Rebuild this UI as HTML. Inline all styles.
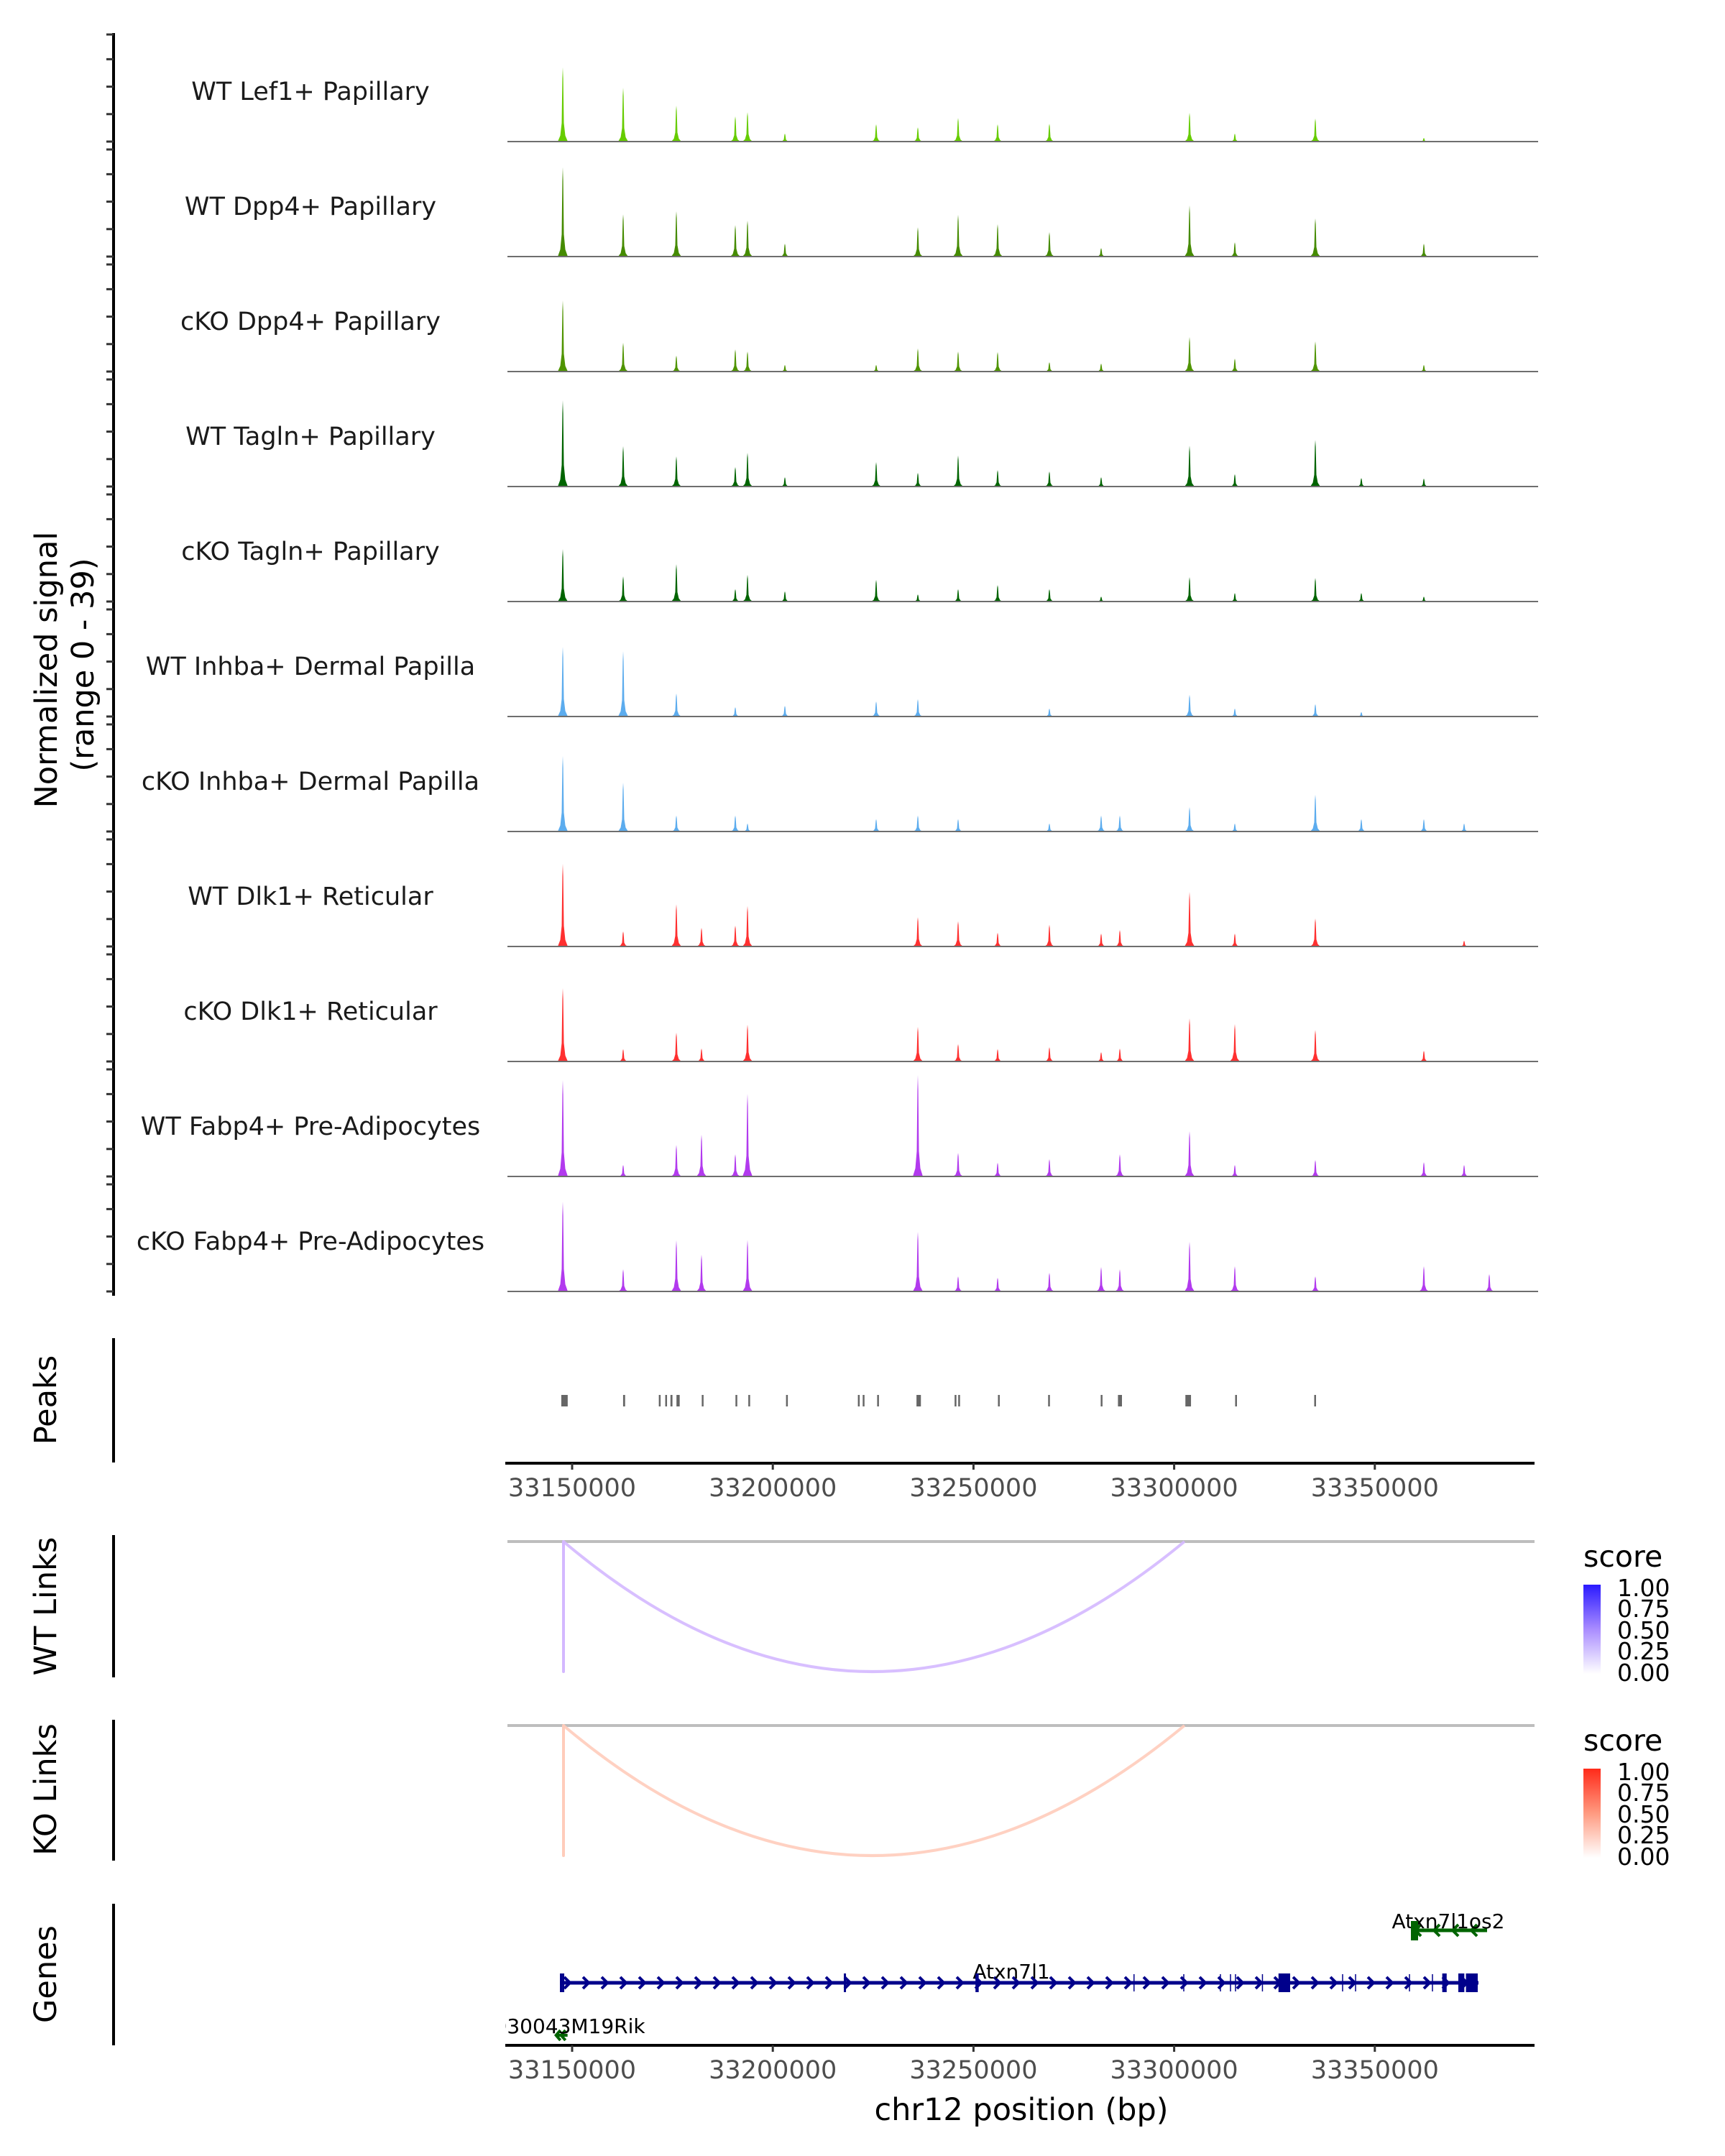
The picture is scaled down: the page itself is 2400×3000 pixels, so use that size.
<!DOCTYPE html>
<html><head><meta charset="utf-8"><title>Coverage plot chr12</title>
<style>
html,body{margin:0;padding:0;background:#fff;}
svg{display:block;font-family:"DejaVu Sans","Liberation Sans",sans-serif;}
</style></head>
<body>
<svg id="chart" width="2400" height="3000" viewBox="0 0 2400 3000" xmlns="http://www.w3.org/2000/svg">
<rect width="2400" height="3000" fill="#fff"/>
<defs>
<linearGradient id="gradBlue" x1="0" y1="0" x2="0" y2="1"><stop offset="0" stop-color="#2a1aff"/><stop offset="0.5" stop-color="#a98cff"/><stop offset="1" stop-color="#ffffff"/></linearGradient>
<linearGradient id="gradRed" x1="0" y1="0" x2="0" y2="1"><stop offset="0" stop-color="#ff2a1a"/><stop offset="0.5" stop-color="#ff9a80"/><stop offset="1" stop-color="#ffffff"/></linearGradient>
</defs>
<g id="tracks"></g>
<g id="peaks"></g>
<g id="links"></g>
<g id="genes"></g>
<g id="axes"></g>
<text transform="translate(79,932) rotate(-90)" text-anchor="middle" font-size="43" fill="#000">Normalized signal</text>
<text transform="translate(130,925) rotate(-90)" text-anchor="middle" font-size="43" fill="#000">(range 0 - 39)</text>
<text transform="translate(78,1948) rotate(-90)" text-anchor="middle" font-size="43">Peaks</text>
<text transform="translate(78,2235) rotate(-90)" text-anchor="middle" font-size="43">WT Links</text>
<text transform="translate(78,2490) rotate(-90)" text-anchor="middle" font-size="43">KO Links</text>
<text transform="translate(78,2747) rotate(-90)" text-anchor="middle" font-size="43">Genes</text>
<text x="1421" y="2950" text-anchor="middle" font-size="43">chr12 position (bp)</text>
<g>
<text x="2203" y="2180" font-size="41">score</text>
<rect x="2203" y="2205" width="24" height="124" fill="url(#gradBlue)"/>
<g font-size="33" fill="#000">
<text x="2250" y="2221">1.00</text><text x="2250" y="2250">0.75</text><text x="2250" y="2280">0.50</text><text x="2250" y="2309">0.25</text><text x="2250" y="2339">0.00</text></g>
</g>
<g>
<text x="2203" y="2436" font-size="41">score</text>
<rect x="2203" y="2461" width="24" height="124" fill="url(#gradRed)"/>
<g font-size="33" fill="#000">
<text x="2250" y="2477">1.00</text><text x="2250" y="2506">0.75</text><text x="2250" y="2536">0.50</text><text x="2250" y="2565">0.25</text><text x="2250" y="2595">0.00</text></g>
</g>
</svg>
<script>
// ---------- data ----------
const trackNames = ["WT Lef1+ Papillary","WT Dpp4+ Papillary","cKO Dpp4+ Papillary","WT Tagln+ Papillary","cKO Tagln+ Papillary","WT Inhba+ Dermal Papilla","cKO Inhba+ Dermal Papilla","WT Dlk1+ Reticular","cKO Dlk1+ Reticular","WT Fabp4+ Pre-Adipocytes","cKO Fabp4+ Pre-Adipocytes"];
const trackColors = ["#66cc00","#458b00","#4f9400","#006400","#006400","#5cacee","#5cacee","#ff3030","#ff3030","#b23aee","#b23aee"];
const peakPositions = [33147670,33162710,33175970,33182230,33190650,33193700,33203010,33225750,33236140,33246170,33256010,33268910,33281800,33286460,33303830,33315110,33335170,33346630,33362210,33372240,33378510];
const sigLef1WT  = [27,19.6,13.1,0,9.2,10.7,2.9,6.3,5.2,8.6,6.3,6.5,0,0,10.5,2.9,8.4,0,1.3,0,0];
const sigDpp4WT  = [32.5,15.4,16.5,0,11.5,13.1,4.7,0,10.7,15.2,11.8,8.9,3.1,0,18.6,5.2,13.9,0,4.7,0,0];
const sigDpp4KO  = [25.9,10.5,5.8,0,8.1,7.3,2.4,2.4,8.4,7.3,7.1,3.4,2.9,0,12.6,4.7,11,0,2.4,0,0];
const sigTaglnWT = [31.4,14.7,11,0,7.1,12.3,3.4,8.9,5,11.3,6,5.5,3.4,0,14.9,4.5,17,3.1,2.9,0,0];
const sigTaglnKO = [19.1,9.2,13.6,0,4.5,9.7,3.7,7.9,2.6,4.5,6,4.5,1.8,0,8.9,3.1,8.6,3.1,1.8,0,0];
const sigInhbaWT = [25.4,23.8,8.4,0,3.4,0,3.9,5.5,6.3,0,0,2.9,0,0,7.9,2.9,4.5,1.6,0,0,0];
const sigInhbaKO = [27.5,17.8,5.8,0,5.8,2.9,0,4.5,5.8,4.5,0,2.9,5.8,5.8,8.9,2.9,13.4,4.5,4.5,2.9,0];
const sigDlk1WT  = [30.1,5.5,15.4,6.8,7.6,14.7,0,0,10.7,9.2,5,7.9,4.7,6,19.9,4.7,10.2,0,0,2.1,0];
const sigDlk1KO  = [26.7,4.5,10.5,4.7,0,13.4,0,0,12.6,6.3,4.5,5.2,3.4,4.7,15.7,13.6,11.5,0,3.9,0,0];
const sigFabp4WT = [35.1,4.2,11.5,15.2,8.1,30.1,0,0,36.9,8.6,5,6.3,0,8.1,16.5,4.2,6,0,5.2,4.2,0];
const sigFabp4KO = [32.7,8.1,18.6,13.4,0,18.8,0,0,21.7,5.5,5,6.8,8.9,8.1,18.1,9.2,5.5,0,9.2,0,6.3];
const signals = [sigLef1WT,sigDpp4WT,sigDpp4KO,sigTaglnWT,sigTaglnKO,sigInhbaWT,sigInhbaKO,sigDlk1WT,sigDlk1KO,sigFabp4WT,sigFabp4KO];
const peakStarts = [33147300,33162700,33171600,33173200,33174500,33176000,33182300,33190700,33193900,33203300,33221200,33222400,33226000,33235800,33245300,33246200,33256100,33268600,33281700,33286000,33302800,33315200,33334900];
const peakEnds   = [33148900,33163200,33171800,33173400,33175000,33176800,33182500,33191000,33194200,33203500,33221400,33222600,33226200,33236900,33245600,33246600,33256300,33268900,33281900,33287000,33304200,33315400,33335100];
const xTicks = [33150000,33200000,33250000,33300000,33350000];
const linkStartWT = [33147850]; const linkEndWT = [33302570]; const linkScoreWT = [0.3];
const linkStartKO = [33147850]; const linkEndKO = [33302570]; const linkScoreKO = [0.3];
const geneNames = ["Atxn7l1","Atxn7l1os2","4930043M19Rik"];
const geneStarts = [33146960,33358990,33146000];
const geneEnds = [33375820,33377970,33148200];
const exonStartsA = [33146960,33147500,33217700,33250500,33326000,33366800,33370800,33372700];
const exonEndsA   = [33147200,33147700,33218000,33251300,33328900,33367900,33372300,33375640];
const thinMarksA = [33302400,33311530,33314040,33315290,33341970,33345200,33358630,33364360,33322000,33290000];

// ---------- scales ----------
const X0 = 796, BP0 = 33150000, PX_PER_BP = 279.2/50000;
function xScale(bp){ return X0 + (bp - BP0) * PX_PER_BP; }
const BASE0 = 197, TRACK_STEP = 160, MAXV = 39, TRACK_H = 149;
function yTrack(i, v){ return BASE0 + i*TRACK_STEP - v/MAXV*TRACK_H; }

const NS = "http://www.w3.org/2000/svg";
function mk(tag, attrs, parent){ const e=document.createElementNS(NS,tag); for(const k in attrs) e.setAttribute(k,attrs[k]); parent.appendChild(e); return e; }

const gT = document.getElementById('tracks');
const gA = document.getElementById('axes');
const PLOT_L = 706, PLOT_R = 2140;

const axLine = mk('line',{x1:158,y1:46,x2:158,y2:1803,stroke:'#000','stroke-width':4},gA);



signals.forEach((sig,i)=>{
  const base = yTrack(i,0);
  const g = mk('g',{},gT);
  
  
  const lab = mk('text',{x:432,y:base-58,'text-anchor':'middle','font-size':35,fill:'#1a1a1a'},g);
  lab.textContent = trackNames[i];
  
  
  sig.forEach((v,j)=>{
    if(v<=0) return;
    const x = xScale(peakPositions[j]);
    const top = yTrack(i,v), h = base-top;
    const pts = [[x-7,base],[x-3.5,base-h*0.08],[x-1.5,base-h*0.25],[x-0.6,base-h*0.85],[x,top],[x+0.6,base-h*0.85],[x+1.5,base-h*0.25],[x+3.5,base-h*0.08],[x+7,base]];
    const p = mk('polygon',{points:pts.map(q=>q[0].toFixed(1)+','+q[1].toFixed(1)).join(' '),fill:trackColors[i]},g);
    
    
  });
  const bl = mk('line',{x1:PLOT_L,y1:base,x2:PLOT_R,y2:base,stroke:'#6e6e6e','stroke-width':2},g);
  
  
  [0,10,20,30,39].forEach(t=>{
    const y=yTrack(i,t);
    const tk = mk('line',{x1:148,y1:y,x2:158,y2:y,stroke:'#333','stroke-width':3},gA);
    
    
  });
});

const gP = document.getElementById('peaks');
const pAx = mk('line',{x1:158,y1:1862,x2:158,y2:2035,stroke:'#000','stroke-width':4},gP);


peakStarts.forEach((s,k)=>{
  const x1=xScale(s), x2=xScale(peakEnds[k]);
  const r = mk('rect',{x:x1,y:1941,width:Math.max(2.5,x2-x1),height:16,fill:'#666'},gP);
  
  
});

function xAxis(y, name){
  const g = mk('g',{},gA);
  
  
  mk('line',{x1:703,y1:y,x2:2135,y2:y,stroke:'#000','stroke-width':4},g);
  xTicks.forEach(t=>{
    const x=xScale(t);
    const tk=mk('line',{x1:x,y1:y,x2:x,y2:y+9,stroke:'#333','stroke-width':3},g);
    
    
    const tl=mk('text',{x:x,y:y+46,'text-anchor':'middle','font-size':35,fill:'#4d4d4d'},g);
    tl.textContent=String(t);
    
    
  });
}
xAxis(2036,'peaks-x-axis');
xAxis(2846,'genes-x-axis');

const gL = document.getElementById('links');
function links(top, bottom, starts, ends, scores, color, axTop, axBot, name){
  const g = mk('g',{},gL);
  
  
  mk('line',{x1:158,y1:axTop,x2:158,y2:axBot,stroke:'#000','stroke-width':4},g);
  mk('line',{x1:PLOT_L,y1:top,x2:2135,y2:top,stroke:'#bebebe','stroke-width':4},g);
  starts.forEach((s,k)=>{
    const a=xScale(s), b=xScale(ends[k]);
    const cy = top + 2*(bottom-top);
    const cx = (a+b)/2 - 5;
    const v = mk('line',{x1:a,y1:top,x2:a,y2:bottom,stroke:color,'stroke-width':4,'stroke-linecap':'round'},g);
    
    
    const p = mk('path',{d:`M${a},${top} Q${cx},${cy} ${b},${top}`,fill:'none',stroke:color,'stroke-width':4,'stroke-opacity':0.6+scores[k]},g);
    
    
  });
}
links(2145,2326,linkStartWT,linkEndWT,linkScoreWT,'#d4b8ff',2136,2334,'wt-links');
links(2401,2582,linkStartKO,linkEndKO,linkScoreKO,'#ffccbb',2393,2589,'ko-links');

const gG = document.getElementById('genes');
const gAx = mk('line',{x1:158,y1:2649,x2:158,y2:2846,stroke:'#000','stroke-width':4},gG);


const clipR = mk('clipPath',{id:'geneClip'},gG); mk('rect',{x:703,y:2600,width:1440,height:260},clipR);
const gGc = mk('g',{'clip-path':'url(#geneClip)'},gG);
function gene(idx, y, color, dir, labelX, labelY){
  const g = mk('g',{},gGc);
  
  
  const a=xScale(geneStarts[idx]), b=xScale(geneEnds[idx]);
  mk('line',{x1:a,y1:y,x2:b,y2:y,stroke:color,'stroke-width':5},g);
  for(let x=a+10; x<b-4; x+=26){
    const d = dir>0 ? `M${x-4},${y-8} L${x+4},${y} L${x-4},${y+8}` : `M${x+4},${y-8} L${x-4},${y} L${x+4},${y+8}`;
    mk('path',{d:d,fill:'none',stroke:color,'stroke-width':4},g);
  }
  const t = mk('text',{x:labelX,y:labelY,'font-size':28,fill:'#000','text-anchor':'middle'},g);
  t.textContent = geneNames[idx];
  
  
  return g;
}
const gA1 = gene(0,2759,'#00008b',1,1407,2753);
exonStartsA.forEach((s,k)=>{
  const x1=xScale(s), x2=xScale(exonEndsA[k]);
  const r=mk('rect',{x:x1,y:2746,width:Math.max(3,x2-x1),height:26,fill:'#00008b'},gA1);
  
  
});
thinMarksA.forEach(s=>{
  const x=xScale(s);
  mk('line',{x1:x,y1:2747,x2:x,y2:2771,stroke:'#00008b','stroke-width':1.5},gA1);
});
const gA2 = gene(1,2686,'#006400',-1,2015,2683);
const e2 = mk('rect',{x:xScale(geneStarts[1]),y:2673,width:10,height:27,fill:'#006400'},gA2);


const gA3 = mk('g',{},gGc);


const x3 = xScale(geneStarts[2]);
mk('path',{d:`M${x3+6},${2825} L${x3},${2832} L${x3+6},${2839} M${x3+13},${2825} L${x3+7},${2832} L${x3+13},${2839} M${x3},2832 L${x3+16},2832`,fill:'none',stroke:'#006400','stroke-width':4},gA3);
const t3 = mk('text',{x:x3+10,y:2829,'font-size':28,'text-anchor':'middle'},gA3);
t3.textContent = geneNames[2];
</script>
</body></html>
